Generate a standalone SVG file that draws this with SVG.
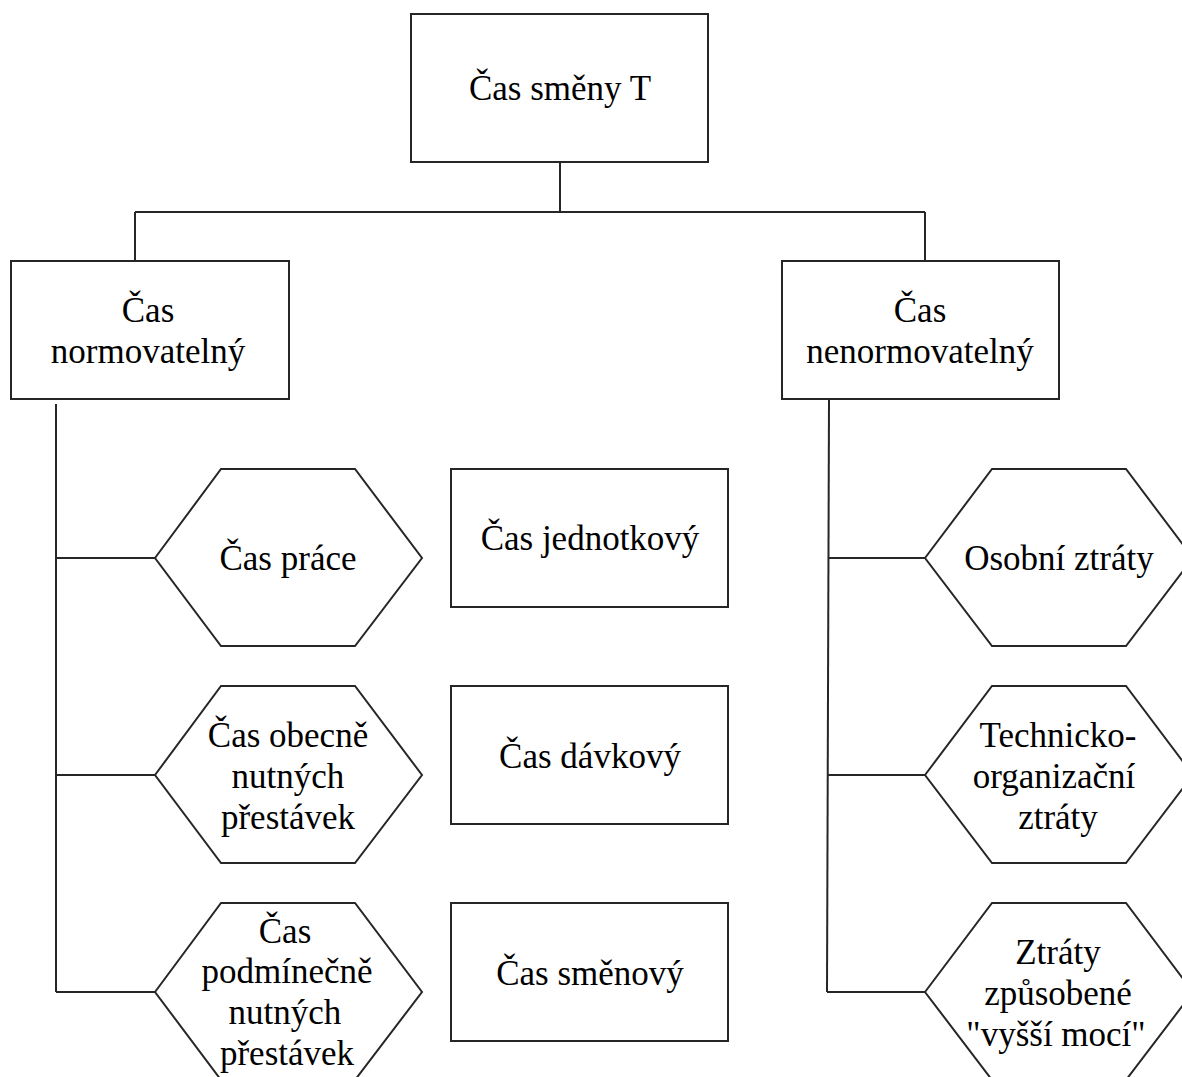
<svg xmlns="http://www.w3.org/2000/svg" width="1182" height="1077" viewBox="0 0 1182 1077">
  <style>
    .shape { fill: #ffffff; stroke: #262626; stroke-width: 2; }
    .wire { fill: none; stroke: #262626; stroke-width: 2; }
    .label { font-family: "Liberation Serif", "Times New Roman", serif; font-size: 35px; fill: #000000; text-anchor: middle; }
  </style>
  <rect width="1182" height="1077" fill="#ffffff"/>

  <!-- connectors -->
  <g id="connectors">
    <path class="wire" d="M560 163 V212 M135 212 H925 M135 212 V261 M925 212 V261"/>
    <path class="wire" d="M56 404 V992"/>
    <path class="wire" d="M56 558 H155 M56 775 H155 M56 992 H155"/>
    <path class="wire" d="M829 400 L827 992"/>
    <path class="wire" d="M828.6 558 H925 M828.1 775 H925 M827 992 H925"/>
  </g>

  <!-- root -->
  <g id="node-shift-time">
    <rect class="shape" x="411" y="14" width="297" height="148"/>
    <text class="label" x="560" y="100">Čas směny T</text>
  </g>

  <!-- level 2 -->
  <g id="node-normable">
    <rect class="shape" x="11" y="261" width="278" height="138"/>
    <text class="label" x="148" y="322">Čas</text>
    <text class="label" x="148" y="363">normovatelný</text>
  </g>
  <g id="node-non-normable">
    <rect class="shape" x="782" y="261" width="277" height="138"/>
    <text class="label" x="920" y="322">Čas</text>
    <text class="label" x="920" y="363">nenormovatelný</text>
  </g>

  <!-- normable branch -->
  <g id="node-work-time">
    <polygon class="shape" points="155,558 221,469 355,469 422,558 355,646 221,646"/>
    <text class="label" x="288" y="570">Čas práce</text>
  </g>
  <g id="node-necessary-breaks">
    <polygon class="shape" points="155,775 221,686 355,686 422,775 355,863 221,863"/>
    <text class="label" x="288" y="747">Čas obecně</text>
    <text class="label" x="288" y="788">nutných</text>
    <text class="label" x="288" y="829">přestávek</text>
  </g>
  <g id="node-conditional-breaks">
    <polygon class="shape" points="155,992 221,903 355,903 422,992 355,1080 221,1080"/>
    <text class="label" x="285" y="943">Čas</text>
    <text class="label" x="287" y="983">podmínečně</text>
    <text class="label" x="285" y="1024">nutných</text>
    <text class="label" x="287" y="1065">přestávek</text>
  </g>

  <g id="node-unit-time">
    <rect class="shape" x="451" y="469" width="277" height="138"/>
    <text class="label" x="590" y="550">Čas jednotkový</text>
  </g>
  <g id="node-batch-time">
    <rect class="shape" x="451" y="686" width="277" height="138"/>
    <text class="label" x="590" y="768">Čas dávkový</text>
  </g>
  <g id="node-shift-unit-time">
    <rect class="shape" x="451" y="903" width="277" height="138"/>
    <text class="label" x="590" y="985">Čas směnový</text>
  </g>

  <!-- non-normable branch -->
  <g id="node-personal-losses">
    <polygon class="shape" points="925,558 992,469 1126,469 1193,558 1126,646 992,646"/>
    <text class="label" x="1059" y="570">Osobní ztráty</text>
  </g>
  <g id="node-technical-losses">
    <polygon class="shape" points="925,775 992,686 1126,686 1193,775 1126,863 992,863"/>
    <text class="label" x="1058" y="747">Technicko-</text>
    <text class="label" x="1054" y="788">organizační</text>
    <text class="label" x="1058" y="829">ztráty</text>
  </g>
  <g id="node-force-majeure">
    <polygon class="shape" points="925,992 992,903 1126,903 1193,992 1126,1080 992,1080"/>
    <text class="label" x="1058" y="964">Ztráty</text>
    <text class="label" x="1058" y="1005">způsobené</text>
    <text class="label" x="1056" y="1046">"vyšší mocí"</text>
  </g>
</svg>
